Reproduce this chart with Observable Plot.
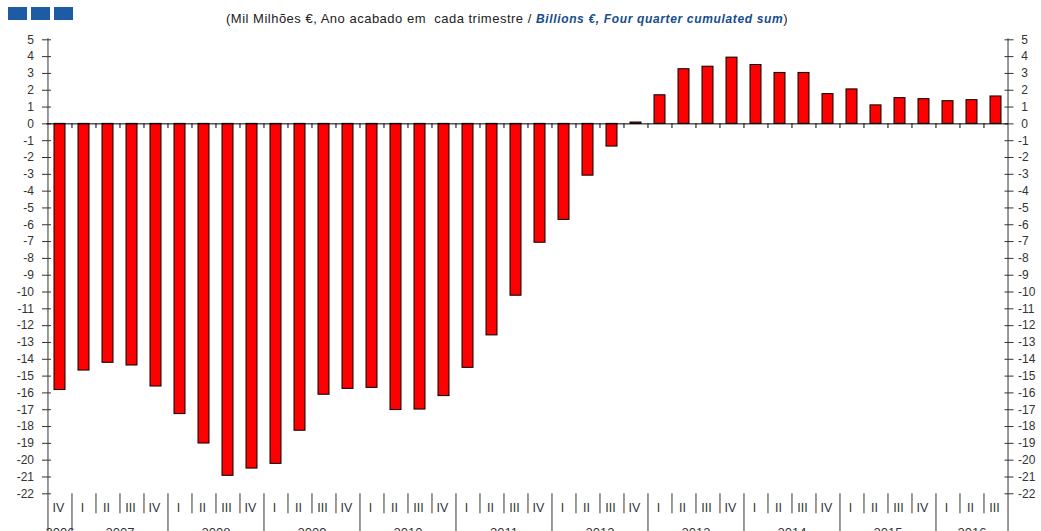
<!DOCTYPE html>
<html>
<head>
<meta charset="utf-8">
<script src="https://cdn.jsdelivr.net/npm/d3@7"></script>
<script src="https://cdn.jsdelivr.net/npm/@observablehq/plot@0.6"></script>
<style>
html, body { margin: 0; padding: 0; background: #fff; overflow: hidden; }
#header { position: relative; height: 30px; width: 1041px; font-family: "Liberation Sans", Arial, sans-serif; }
.sq { position: absolute; top: 7px; width: 19px; height: 13px; background: #1d5ca5; }
#title { position: absolute; left: 226px; top: 10px; white-space: nowrap; line-height: 16px; }
#title .pt { font-size: 13px; color: #222; letter-spacing: 0.5px; }
#title .en { font-size: 12px; font-weight: bold; font-style: italic; color: #154d8a; letter-spacing: 0.65px; }
#chart svg { display: block; }
</style>
</head>
<body>
<div id="header">
  <div class="sq" style="left:8px"></div>
  <div class="sq" style="left:31px"></div>
  <div class="sq" style="left:54px"></div>
  <div id="title"><span class="pt">(Mil Milhões €, Ano acabado em&nbsp; cada trimestre / </span><span class="en">Billions €, Four quarter cumulated sum</span><span class="pt">)</span></div>
</div>
<div id="chart"></div>
<script>
// ---- data ----
const yearLabels = ["2006","2007","2008","2009","2010","2011","2012","2013","2014","2015","2016"];
const quarterLabels = ["I","II","III","IV"];
const firstPeriod = "2006 IV";
const lastPeriod = "2016 III";
const values = [
  -15.83, -14.67, -14.21, -14.37, -15.62,
  -17.26, -19.01, -20.93, -20.50,
  -20.22, -18.25, -16.11, -15.76,
  -15.70, -17.02, -16.99, -16.19,
  -14.51, -12.58, -10.22, -7.07,
  -5.71, -3.08, -1.35, 0.08,
  1.70, 3.25, 3.40, 3.94,
  3.50, 3.03, 3.03, 1.77,
  2.05, 1.10, 1.53, 1.47,
  1.35, 1.41, 1.63
];
const yTicks = d3.range(-22, 6);

// ---- table ----
const periods = [];
let on = false;
for (const y of yearLabels) for (const q of quarterLabels) {
  const key = y + " " + q;
  if (key === firstPeriod) on = true;
  if (on) periods.push({key, year: y, quarter: q});
  if (key === lastPeriod) on = false;
}
periods.forEach((p, i) => p.value = values[i]);
const keys = periods.map(p => p.key);

const W = 1041, H = 510, ML = 46.5, MR = 33, MT = 9.3, MB = 46.7;
const step = (W - ML - MR) / keys.length;
const font = '"Liberation Sans", Arial, sans-serif';

const yearFull = [], yearPart = [];
for (const y of yearLabels) {
  const ps = periods.filter(p => p.year === y);
  if (ps.length === 4) yearFull.push(ps[1]);
  else yearPart.push(ps[Math.floor((ps.length - 1) / 2)]);
}
const innerBounds = periods.slice(1);

const chart = Plot.plot({
  width: W, height: H,
  marginLeft: ML, marginRight: MR, marginTop: MT, marginBottom: MB,
  style: {fontFamily: font, fontSize: "12px", color: "#333", background: "#fff", overflow: "visible"},
  x: {type: "band", domain: keys, paddingInner: 0.54, paddingOuter: 0.27, axis: null},
  y: {domain: [-22, 5], axis: null},
  marks: [
    // axis lines
    Plot.ruleX([keys[0]], {y1: 5.06, y2: -25, dx: -step / 2, stroke: "#333"}),
    Plot.ruleX([keys[keys.length - 1]], {y1: 5.06, y2: -25, dx: step / 2, stroke: "#333"}),
    // y ticks (crossing) and labels
    Plot.axisY({anchor: "left", label: null, ticks: yTicks, tickSize: 9, dx: 4.5, tickFormat: () => "", stroke: "#333"}),
    Plot.axisY({anchor: "left", label: null, ticks: yTicks, tickSize: 0, tickPadding: 13, tickFormat: d => String(d), fill: "#333", letterSpacing: 0.8}),
    Plot.axisY({anchor: "right", label: null, ticks: yTicks, tickSize: 9, dx: -4.5, tickFormat: () => "", stroke: "#333"}),
    Plot.axisY({anchor: "right", label: null, ticks: yTicks, tickSize: 0, tickPadding: 9.5, tickFormat: d => (d >= 0 ? "\u00a0" : "") + String(d), fill: "#333", letterSpacing: 0.8}),
    // bars
    Plot.barY(periods, {x: "key", y: "value", fill: "#ff0000", stroke: "#000", strokeWidth: 1}),
    // zero line and its ticks
    Plot.ruleY([0], {stroke: "#000"}),
    Plot.ruleX(innerBounds, {x: "key", y1: 0, y2: -0.28, dx: -step / 2, stroke: "#000"}),
    // bottom separators
    Plot.ruleX(innerBounds.filter(p => p.quarter !== "I"), {x: "key", y1: -22, y2: -23.19, dx: -step / 2, stroke: "#333"}),
    Plot.ruleX(innerBounds.filter(p => p.quarter === "I"), {x: "key", y1: -22, y2: -25, dx: -step / 2, stroke: "#333"}),
    // quarter labels
    Plot.text(periods, {x: "key", y: -22, text: "quarter", dy: 14, dx: -1.5, fontSize: 12.5, fill: "#333", letterSpacing: 0.6}),
    // year labels (cut off by the bottom edge, as in the reference)
    Plot.text(yearFull, {x: "key", y: -22, text: "year", dx: step / 2, dy: 33.5, lineAnchor: "top", fontSize: 13, fill: "#333"}),
    Plot.text(yearPart, {x: "key", y: -22, text: "year", dy: 33.5, lineAnchor: "top", fontSize: 13, fill: "#333"})
  ]
});
document.getElementById("chart").appendChild(chart);
</script>
</body>
</html>
